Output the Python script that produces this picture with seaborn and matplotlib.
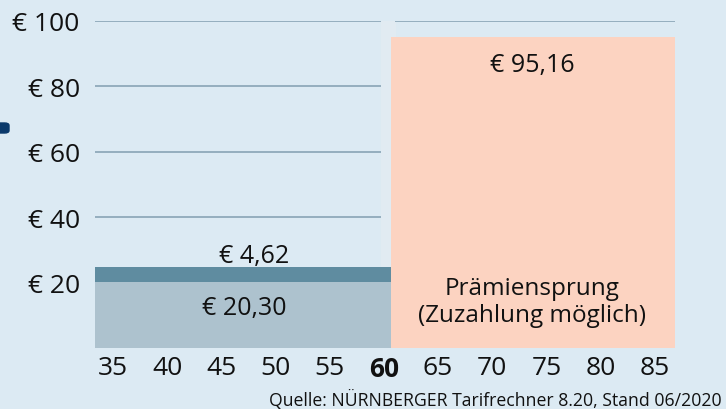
import matplotlib
matplotlib.use("Agg")
import matplotlib.pyplot as plt
from matplotlib.patches import FancyBboxPatch
import seaborn as sns

# ages (x) and premiums in euro (y)
age_ticks = [35, 40, 45, 50, 55, 60, 65, 70, 75, 80, 85]
y_ticks = [20, 40, 60, 80, 100]
y_labels = ["€ 20", "€ 40", "€ 60", "€ 80", "€ 100"]

seg_from = [33.35, 33.35, 60.65]
seg_to = [60.65, 60.65, 86.85]
seg_bottom = [0, 20.30, 0]
seg_value = [20.30, 4.62, 95.16]
seg_colors = ["#adc2ce", "#5f8ca0", "#fcd3c1"]

bg = "#dceaf3"
ink = "#111111"

sns.set_theme(style="white", rc={"axes.facecolor": bg, "figure.facecolor": bg,
                                 "text.color": ink, "xtick.color": ink,
                                 "ytick.color": ink})
plt.rcParams["font.family"] = ["Open Sans", "DejaVu Sans"]

fig = plt.figure(figsize=(7.26, 4.10), dpi=100)
ax = fig.add_axes([95 / 726, 61 / 410, 580 / 726, 327 / 410])
ax.set_xlim(33.35, 86.85)
ax.set_ylim(0, 100)

# faint separator strip and gridlines (split around age 60)
ax.axvspan(59.72, 61.0, ymin=0, ymax=1, color="#e1ebf2", zorder=0)
for t in y_ticks:
    ax.hlines(t, 33.35, 59.72, color="#8fa9ba", lw=1.3, zorder=1)
    ax.hlines(t, 61.0, 86.85, color="#8fa9ba", lw=1.3, zorder=1)

widths = [b - a for a, b in zip(seg_from, seg_to)]
ax.bar(seg_from, seg_value, width=widths, bottom=seg_bottom, align="edge",
       color=seg_colors, linewidth=0, zorder=2)

fs = 18
ax.text(48.0, 28.4, "€ 4,62", ha="center", va="center", fontsize=fs, zorder=3)
ax.text(47.1, 12.5, "€ 20,30", ha="center", va="center", fontsize=fs, zorder=3)
ax.text(73.65, 86.8, "€ 95,16", ha="center", va="center", fontsize=fs, zorder=3)
ax.text(73.65, 14.2, "Prämiensprung\n(Zuzahlung möglich)", ha="center", va="center",
        fontsize=17.5, linespacing=1.2, zorder=3)

ax.set_xticks(age_ticks)
ax.set_xticklabels([str(a) for a in age_ticks], fontsize=19)
for lab in ax.get_xticklabels():
    if lab.get_text() == "60":
        lab.set_fontweight("bold")
ax.set_yticks(y_ticks)
ax.set_yticklabels(y_labels, fontsize=19)
ax.tick_params(axis="both", length=0)
ax.tick_params(axis="x", pad=5)
ax.tick_params(axis="y", pad=11)
for s in ax.spines.values():
    s.set_visible(False)

fig.text(722 / 726, 10 / 410, "Quelle: NÜRNBERGER Tarifrechner 8.20, Stand 06/2020",
         ha="right", va="center", fontsize=12.7)

# cut-off legend marker at left edge
fig.patches.append(FancyBboxPatch((-6 / 726, 276 / 410), 15 / 726, 10 / 410,
                                  boxstyle="round,pad=0,rounding_size=0.006",
                                  transform=fig.transFigure, color="#0b3a6b"))

fig.savefig("out.png", dpi=100, facecolor=bg)
